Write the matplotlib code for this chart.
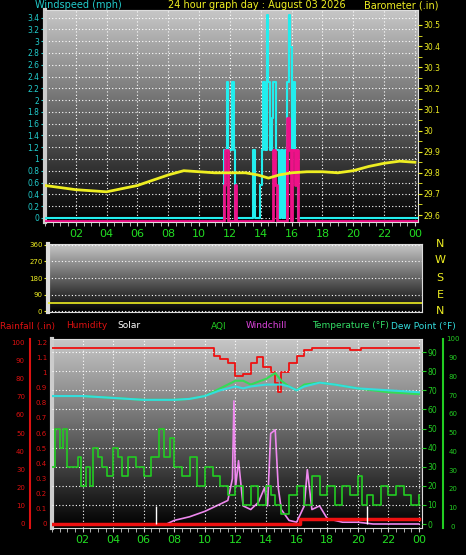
import numpy as np
import matplotlib
matplotlib.use("Agg")
import matplotlib.pyplot as plt

W, H = 466, 555
fig = plt.figure(figsize=(W/100, H/100), dpi=100, facecolor="black")

def ax_px(x0, y0, x1, y1):
    return fig.add_axes([x0/W, 1-y1/H, (x1-x0)/W, (y1-y0)/H])

# ---------------- data ----------------
hours_ticks = [2, 4, 6, 8, 10, 12, 14, 16, 18, 20, 22, 24]
hour_labels = ["02", "04", "06", "08", "10", "12", "14", "16", "18", "20", "22", "00"]

baro_t = [0, 1, 2, 3, 4, 5, 6, 7, 8, 9, 10, 11, 12, 13, 13.8, 14.5, 15.2, 16, 17, 18, 19, 20, 21, 22, 23, 24]
baro_v = [29.74, 29.73, 29.72, 29.715, 29.71, 29.725, 29.74, 29.765, 29.79, 29.81, 29.805, 29.80, 29.80, 29.80, 29.79,
          29.775, 29.79, 29.80, 29.805, 29.805, 29.80, 29.81, 29.83, 29.845, 29.855, 29.85]

gust_t = [0, 11.6, 11.8, 11.9, 12.15, 12.25, 12.35, 13.5, 13.6, 13.95, 14.05, 14.15, 14.3, 14.4, 14.5, 14.6, 14.7,
          14.8, 15.0, 15.15, 15.3, 15.45, 15.55, 15.7, 15.8, 15.9, 16.0, 16.1, 16.25, 16.4, 24.2]
gust_v = [0, 1.15, 2.3, 1.15, 2.3, 1.15, 0, 1.15, 0, 0.55, 1.15, 2.3, 1.15, 3.45, 2.3, 1.15, 1.7, 2.3, 1.15, 0,
          1.15, 0, 1.15, 2.3, 3.45, 2.9, 1.15, 2.3, 1.15, 0, 0]
avg_t = [0, 11.6, 11.7, 11.85, 12.3, 12.4, 14.8, 14.9, 15.05, 15.7, 15.8, 15.95, 16.05, 16.2, 16.3, 16.4, 24.2]
avg_v = [-0.05, 0.55, 1.15, -0.05, 0.55, -0.05, 1.15, 0.55, -0.05, 1.7, 1.15, -0.05, 1.15, 0.55, 1.15, -0.05, -0.05]

dir_t = [0, 24.2]
dir_v = [45, 45]

hum_t = [0, 10.2, 10.6, 11, 11.5, 12, 12.5, 13, 13.4, 13.8, 14.3, 14.6, 14.8, 15, 15.5, 16, 16.5, 17, 19, 19.5, 20, 20.2, 24]
hum_v = [97, 97, 93, 91, 89, 82, 83, 89, 92, 87, 84, 78, 73, 84, 89, 93, 96, 97, 97, 96, 96, 97, 97]

temp_t = [0, 2, 4, 6, 8, 9, 10, 11, 12, 12.5, 13, 14, 14.6, 15, 15.5, 16, 16.5, 17.5, 18.5, 20, 22, 24]
temp_v = [67, 67, 66, 65, 65, 65.5, 67, 71, 75, 75, 73, 76, 79, 75, 72, 70, 73, 74, 73, 71, 69, 68]
dew_t = [0, 2, 4, 6, 8, 9, 10, 11, 12, 12.5, 13, 14, 14.6, 15, 15.5, 16, 16.5, 17.5, 18.5, 20, 22, 24]
dew_v = [67, 67, 66, 65, 65, 65.5, 67, 70, 72, 71, 72, 73, 73, 73, 72, 70, 72, 74, 73, 71, 70, 69]

aqi_t = [0, 0.2, 0.5, 0.7, 1, 1.5, 1.7, 1.9, 2.2, 2.5, 2.7, 3, 3.3, 3.6, 4, 4.3, 4.6, 5, 5.5, 6, 6.5, 7, 7.3, 7.7,
         8, 8.5, 9, 9.5, 10, 10.5, 11, 11.5, 12, 12.5, 13, 13.5, 14, 14.3, 14.6, 15, 15.5, 16, 16.5, 17, 17.5,
         18, 18.5, 19, 19.5, 20, 20.3, 20.6, 21, 21.5, 22, 22.5, 23, 23.5, 24]
aqi_v = [30, 50, 40, 50, 30, 30, 35, 20, 30, 20, 40, 35, 30, 25, 40, 35, 25, 35, 30, 25, 35, 50, 35, 45,
         30, 25, 35, 20, 30, 25, 20, 15, 20, 10, 20, 10, 20, 15, 10, 5, 15, 20, 10, 25, 15,
         20, 10, 20, 15, 25, 10, 15, 10, 20, 15, 20, 15, 10, 15]

wc_t = [0, 7.5, 8, 9, 10, 11, 11.5, 11.8, 11.9, 12, 12.2, 12.5, 13, 13.5, 13.9, 14.1, 14.3, 14.6, 14.8, 15, 15.5,
        16, 16.5, 16.7, 17, 17.5, 18, 19, 20, 21, 24]
wc_v = [0, 0, 2, 4, 7, 11, 13, 25, 68, 20, 35, 10, 8, 12, 20, 10, 50, 52, 20, 8, 2, 1, 10, 30, 8, 10, 3, 1, 1, 0, 0]

rain_t = [0, 16.2, 24]
rain_v = [0, 0.03, 0.03]

solar_t = [6.8, 20.6]
solar_v = [10, 10]

# ---------------- helpers ----------------
grad = np.linspace(0.78, 0.0, 256).reshape(-1, 1)

def background(ax):
    ax.set_facecolor("black")
    ax.imshow(np.dstack([grad]*3), extent=[0, 1, 0, 1], transform=ax.transAxes,
              aspect="auto", zorder=0)

def common(ax):
    ax.set_xlim(0, 24.2)
    for s in ax.spines.values():
        s.set_color("#dddddd")
    ax.spines["left"].set_linewidth(3)
    ax.spines["left"].set_color("#cccccc")
    ax.set_xticks(hours_ticks)
    ax.set_xticks(np.arange(0, 24.2, 0.5), minor=True)
    ax.set_xticklabels(hour_labels, fontsize=8)
    ax.tick_params(axis="x", which="both", colors="#cccccc", labelcolor="#22dd22", length=3, pad=2)
    for h in hours_ticks:
        ax.axvline(h, color="white", ls=(0, (1, 2)), lw=0.8, zorder=1)

# ---------------- panel 1 ----------------
ax1 = ax_px(45, 10, 418, 222)
background(ax1)
common(ax1)
ax1.set_ylim(-0.07, 3.53)
wt = np.arange(0, 3.41, 0.2).round(1)
ax1.set_yticks(wt)
ax1.set_yticklabels([f"{v:g}" for v in wt], fontsize=5.5, color="#22cccc")
ax1.tick_params(axis="y", colors="#22cccc", length=3, pad=1)
for v in wt:
    ax1.axhline(v, color="white", ls=(0, (1, 2)), lw=0.8, zorder=1)
ax1.step(gust_t, gust_v, where="post", color="#22eeee", lw=1.5, zorder=3)
ax1.step(avg_t, avg_v, where="post", color="#ee1188", lw=2, zorder=4)
ax1b = ax1.twinx()
ax1b.set_ylim(29.567, 30.571)
ax1b.set_yticks([29.6, 29.7, 29.8, 29.9, 30.0, 30.1, 30.2, 30.3, 30.4, 30.5])
ax1b.set_yticklabels(["29.6", "29.7", "29.8", "29.9", "30", "30.1", "30.2", "30.3", "30.4", "30.5"],
                     fontsize=5.5, color="#eeee22")
ax1b.set_yticks(np.arange(29.6, 30.55, 0.05), minor=True)
ax1b.tick_params(axis="y", which="both", colors="#eeee22", length=3, pad=1)
ax1b.tick_params(axis="y", labelcolor="#eeee22")
for s in ax1b.spines.values():
    s.set_visible(False)
ax1b.plot(baro_t, baro_v, color="#eeee22", lw=2)

fig.text(35/W, 1-5/H, "Windspeed (mph)", color="#22cccc", fontsize=7, va="center")
fig.text(257/W, 1-5/H, "24 hour graph day : August 03 2026", color="#eeee22", fontsize=7, va="center", ha="center")
fig.text(438/W, 1-5/H, "Barometer (.in)", color="#eeee22", fontsize=7, va="center", ha="right")

# ---------------- panel 2 ----------------
ax2 = ax_px(48, 244, 422, 312)
background(ax2)
ax2.set_xlim(0, 24.2)
ax2.set_ylim(-4, 364)
ax2.set_xticks([])
for s in ax2.spines.values():
    s.set_color("#dddddd")
ax2.spines["left"].set_linewidth(3)
ax2.set_yticks([0, 90, 180, 270, 360])
ax2.set_yticklabels(["0", "90", "180", "270", "360"], fontsize=5, color="#eeee22")
ax2.tick_params(axis="y", colors="#eeee22", length=3, pad=1)
for v in [0, 90, 180, 270, 360]:
    ax2.axhline(v, color="white", ls=(0, (1, 2)), lw=0.8, zorder=1)
ax2.plot(dir_t, dir_v, color="#eeee22", lw=1.2, zorder=3)
for lab, y in zip(["N", "W", "S", "E", "N"], [244, 260, 278, 295, 311]):
    fig.text(440/W, 1-y/H, lab, color="#eeee22", fontsize=8, va="center", ha="center")

# ---------------- panel 3 ----------------
ax3 = ax_px(52, 339, 422, 528)
background(ax3)
common(ax3)
ax3.set_yticks([])
ax3b = ax3.twinx()
for s in ax3b.spines.values():
    s.set_visible(False)
ax3b.set_ylim((528 - 524) / -1.91, (524 - 339) / 1.91)
ax3b.set_yticks(np.arange(0, 91, 10))
ax3b.set_yticklabels([str(v) for v in range(0, 91, 10)], fontsize=5.5, color="#22cc22")
ax3b.tick_params(axis="y", colors="#22cc22", length=3, pad=1)
for v in np.arange(10, 91, 10):
    ax3b.axhline(v, color="white", ls=(0, (1, 2)), lw=0.8, zorder=1)
ax3b.step(aqi_t, aqi_v, where="post", color="#22cc22", lw=1.2, zorder=3)
ax3b.plot(temp_t, temp_v, color="#33dd55", lw=1.5, zorder=4)
ax3b.plot(dew_t, dew_v, color="#33dddd", lw=1.5, zorder=5)

ax3.set_ylim(-(528 - 524) / 1.81, (524 - 339) / 1.81)
ax3.plot(wc_t, wc_v, color="#ee88ee", lw=1.2, zorder=6)
ax3.step(hum_t, hum_v, where="post", color="#ee1111", lw=1.3, zorder=6)
ax3.step(rain_t, [r / 1.2 * 100 for r in rain_v], where="post", color="#ee1111", lw=2.5, zorder=7)
ax3.vlines(solar_t, 0, solar_v, color="white", lw=1, zorder=7)

for v in range(0, 101, 10):
    y = 524 - v * 1.81
    fig.text(25/W, 1-y/H, str(v), color="#dd1111", fontsize=5, va="center", ha="right")
for v in np.arange(0, 1.21, 0.1):
    y = 524 - v / 1.2 * 100 * 1.81
    fig.text(47/W, 1-y/H, f"{v:.1f}".rstrip("0").rstrip(".") if v > 0 else "0", color="#dd1111",
             fontsize=5, va="center", ha="right")
fig.add_artist(plt.Line2D([30/W, 30/W], [1-339/H, 1-528/H], color="#dd1111", lw=1.5))
for v in range(0, 101, 10):
    y = 527 - v * 1.876
    fig.text(453/W, 1-y/H, str(v), color="#22cc22", fontsize=5, va="center", ha="center")
fig.add_artist(plt.Line2D([443/W, 443/W], [1-339/H, 1-528/H], color="#22cc22", lw=1.5))

labels = [("Rainfall (.in)", 0, "#dd1111"), ("Humidity", 66, "#dd1111"), ("Solar", 117, "white"),
          ("AQI", 211, "#22cc22"), ("Windchill", 246, "#dd44dd"), ("Temperature (°F)", 312, "#33dd66"),
          ("Dew Point (°F)", 391, "#33dddd")]
for txt, x, c in labels:
    fig.text(x/W, 1-326/H, txt, color=c, fontsize=6.5, va="center", ha="left")

fig.savefig("out.png", dpi=100, facecolor="black")
